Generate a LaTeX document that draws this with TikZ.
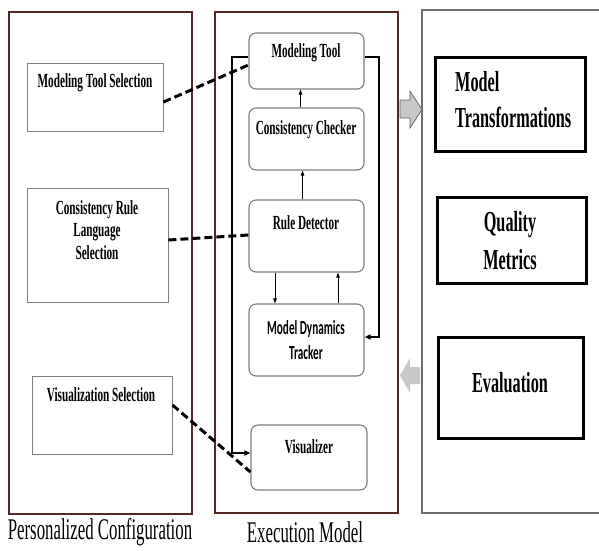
\documentclass[tikz,border=0pt]{standalone}
\usepackage{fontspec}
\setmainfont{Liberation Serif}
\newfontfamily\narrowserif[FakeStretch=0.56]{Liberation Serif}
\newfontfamily\narrowsans[FakeStretch=0.56]{Carlito}
\usetikzlibrary{arrows.meta}

\definecolor{panelred}{RGB}{85,40,40}
\definecolor{boxgray}{RGB}{125,125,125}
\definecolor{framegray}{RGB}{110,110,110}
\definecolor{arrowfill}{RGB}{200,200,200}
\definecolor{arrowedge}{RGB}{95,95,95}

\begin{document}
\begin{tikzpicture}[x=1pt,y=-1pt,
  panel/.style={draw=panelred, line width=1.2pt},
  cfgbox/.style={draw=boxgray, line width=0.9pt, inner sep=0pt, rectangle},
  exbox/.style={draw=boxgray, line width=1.1pt, rounded corners=7pt, inner sep=0pt, rectangle},
  resbox/.style={draw=black, line width=3pt, inner sep=0pt, rectangle},
  lbl/.style={font=\narrowserif\bfseries\fontsize{20}{22.5}\selectfont, inner sep=0pt, align=center},
  sanslbl/.style={font=\narrowsans\bfseries\fontsize{20}{25}\selectfont, inner sep=0pt, align=center},
  biglbl/.style={font=\narrowserif\bfseries\fontsize{29}{36}\selectfont, inner sep=0pt},
  caption/.style={font=\narrowserif\fontsize{30}{32}\selectfont, inner sep=0pt},
  flow/.style={draw=black, line width=0.8pt, -{Triangle[length=5pt,width=3.5pt]}},
  loopline/.style={draw=black, line width=2pt, -{Triangle[length=6pt,width=5pt]}},
  link/.style={draw=black, line width=3pt, dash pattern=on 8pt off 4pt}
]
\useasboundingbox (0,0) rectangle (599,550);

% panels
\draw[panel] (9,12) rectangle (192,514);
\draw[panel] (215,12) rectangle (398,513);
\draw[draw=framegray, line width=1.2pt] (602,10) -- (422,10) -- (422,513) -- (602,513);

% personalized configuration boxes
\node[cfgbox, minimum width=136pt, minimum height=68pt] (mts) at (95,97) {};
\node[cfgbox, minimum width=141pt, minimum height=114pt] (crl) at (97.5,245) {};
\node[cfgbox, minimum width=140pt, minimum height=78pt] (vis) at (102,415) {};
\node[lbl] at (95,83) {Modeling Tool Selection};
\node[lbl] at (97,230) {Consistency Rule\\Language\\Selection};
\node[lbl] at (101,395) {Visualization Selection};

% execution model boxes
\node[exbox, minimum width=115pt, minimum height=56pt] (mt) at (306.5,61) {};
\node[exbox, minimum width=115pt, minimum height=62pt] (cc) at (306.5,139) {};
\node[exbox, minimum width=115pt, minimum height=72pt] (rd) at (306.5,236) {};
\node[exbox, minimum width=115pt, minimum height=72pt] (mdt) at (306.5,340) {};
\node[exbox, minimum width=116pt, minimum height=65pt] (vz) at (309,457.5) {};
\node[lbl] at (306,53) {Modeling Tool};
\node[lbl] at (306,130) {Consistency Checker};
\node[lbl] at (306,223) {Rule Detector};
\node[sanslbl] at (306,340) {Model Dynamics\\Tracker};
\node[lbl] at (309,447) {Visualizer};

% result boxes
\node[resbox, minimum width=150pt, minimum height=94pt] (mtr) at (510,104) {};
\node[resbox, minimum width=149pt, minimum height=86pt] (qm) at (511.5,240) {};
\node[resbox, minimum width=145pt, minimum height=101pt] (ev) at (510.5,387.5) {};
\node[biglbl, align=left, anchor=west] at (455,99.5) {Model\\Transformations};
\node[biglbl, align=center, font=\narrowserif\bfseries\fontsize{29}{38}\selectfont] at (510,241) {Quality\\Metrics};
\node[biglbl] at (510,383) {Evaluation};

% block arrows between panels
\filldraw[fill=arrowfill, draw=arrowedge, line width=0.7pt]
  (400,100) -- (410,100) -- (410,91) -- (422,109.5) -- (410,128) -- (410,118) -- (400,118) -- cycle;
\fill[arrowfill]
  (400,375.5) -- (410,358) -- (410,367) -- (420,367) -- (420,384) -- (410,384) -- (410,393) -- cycle;

% internal flow
\draw[flow] ([xshift=-6pt]cc.north) -- ([xshift=-6pt]cc.north |- mt.south);
\draw[flow] ([xshift=-4pt]rd.north) -- ([xshift=-4pt]rd.north |- cc.south);
\draw[flow] ([xshift=-31.5pt]rd.south) -- ([xshift=-31.5pt]rd.south |- mdt.north);
\draw[flow] ([xshift=31.5pt]mdt.north) -- ([xshift=31.5pt]mdt.north |- rd.south);

% feedback loops
\coordinate (rtop) at (379,57);
\coordinate (ltop) at (232,57);
\draw[loopline] ([yshift=4pt]mt.east) -- (rtop) |- ([yshift=3pt]mdt.east);
\draw[loopline] ([yshift=4pt]mt.west) -- (ltop) |- ([yshift=4.5pt]vz.west);

% configuration links
\draw[link] ([yshift=-5pt]mts.east) -- ([yshift=-4pt]mt.west);
\draw[link] ([yshift=5pt]crl.east) -- ([yshift=1pt]rd.west);
\draw[link] ([yshift=10pt]vis.east) -- ([yshift=-14.5pt]vz.west);

% captions
\node[caption] at (100,532) {Personalized Configuration};
\node[caption] at (305,532) {Execution Model};
\end{tikzpicture}
\end{document}
